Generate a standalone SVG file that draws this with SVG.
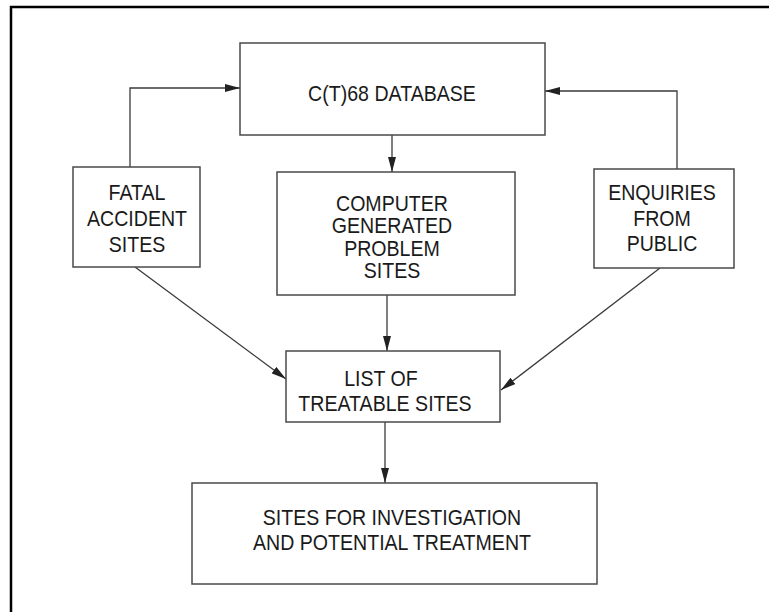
<svg xmlns="http://www.w3.org/2000/svg" width="769" height="612" viewBox="0 0 769 612">
<style>
.box{fill:#fff;stroke:#4a4a4a;stroke-width:1.5}
.t{font-family:"Liberation Sans",Arial,sans-serif;font-size:22px;fill:#1a1a1a;text-anchor:middle;transform-box:fill-box;transform-origin:center;transform:scaleX(0.89)}
.c{fill:none;stroke:#3a3a3a;stroke-width:1.3}
.frame{fill:none;stroke:#000;stroke-width:2.5}
</style>
<defs>
<marker id="ah" viewBox="0 0 15 8" refX="15" refY="4" markerWidth="15" markerHeight="8" markerUnits="userSpaceOnUse" orient="auto">
<path d="M0,0 L15,4 L0,8 Z" fill="#222"/>
</marker>
</defs>
<rect width="769" height="612" fill="#fff"/>
<path class="frame" d="M11,612 L11,7 L769,7"/>
<g id="connectors">
<path class="c" d="M130,167 L130,88 L240,88" marker-end="url(#ah)"/>
<path class="c" d="M677,169 L677,91 L545,91" marker-end="url(#ah)"/>
<path class="c" d="M392,135 L392,172" marker-end="url(#ah)"/>
<path class="c" d="M387,295 L387,351" marker-end="url(#ah)"/>
<path class="c" d="M135,267 L286,379" marker-end="url(#ah)"/>
<path class="c" d="M660,268 L501,390" marker-end="url(#ah)"/>
<path class="c" d="M385,422 L385,483" marker-end="url(#ah)"/>
</g>
<g id="database">
<rect class="box" x="240" y="43" width="305" height="92"/>
<text class="t" x="392" y="101">C(T)68 DATABASE</text>
</g>
<g id="fatal">
<rect class="box" x="73" y="167" width="127" height="100"/>
<text class="t" x="137" y="200">FATAL</text>
<text class="t" x="137" y="226">ACCIDENT</text>
<text class="t" x="137" y="252">SITES</text>
</g>
<g id="computer">
<rect class="box" x="277" y="172" width="238" height="123"/>
<text class="t" x="392" y="211">COMPUTER</text>
<text class="t" x="392" y="233">GENERATED</text>
<text class="t" x="392" y="256">PROBLEM</text>
<text class="t" x="392" y="278">SITES</text>
</g>
<g id="enquiries">
<rect class="box" x="594" y="169" width="140" height="99"/>
<text class="t" x="662" y="200">ENQUIRIES</text>
<text class="t" x="662" y="226">FROM</text>
<text class="t" x="662" y="251">PUBLIC</text>
</g>
<g id="list">
<rect class="box" x="286" y="351" width="214" height="71"/>
<text class="t" x="381" y="386">LIST OF</text>
<text class="t" x="385" y="411">TREATABLE SITES</text>
</g>
<g id="sites">
<rect class="box" x="192" y="483" width="405" height="101"/>
<text class="t" x="392" y="525">SITES FOR INVESTIGATION</text>
<text class="t" x="392" y="550">AND POTENTIAL TREATMENT</text>
</g>
</svg>
